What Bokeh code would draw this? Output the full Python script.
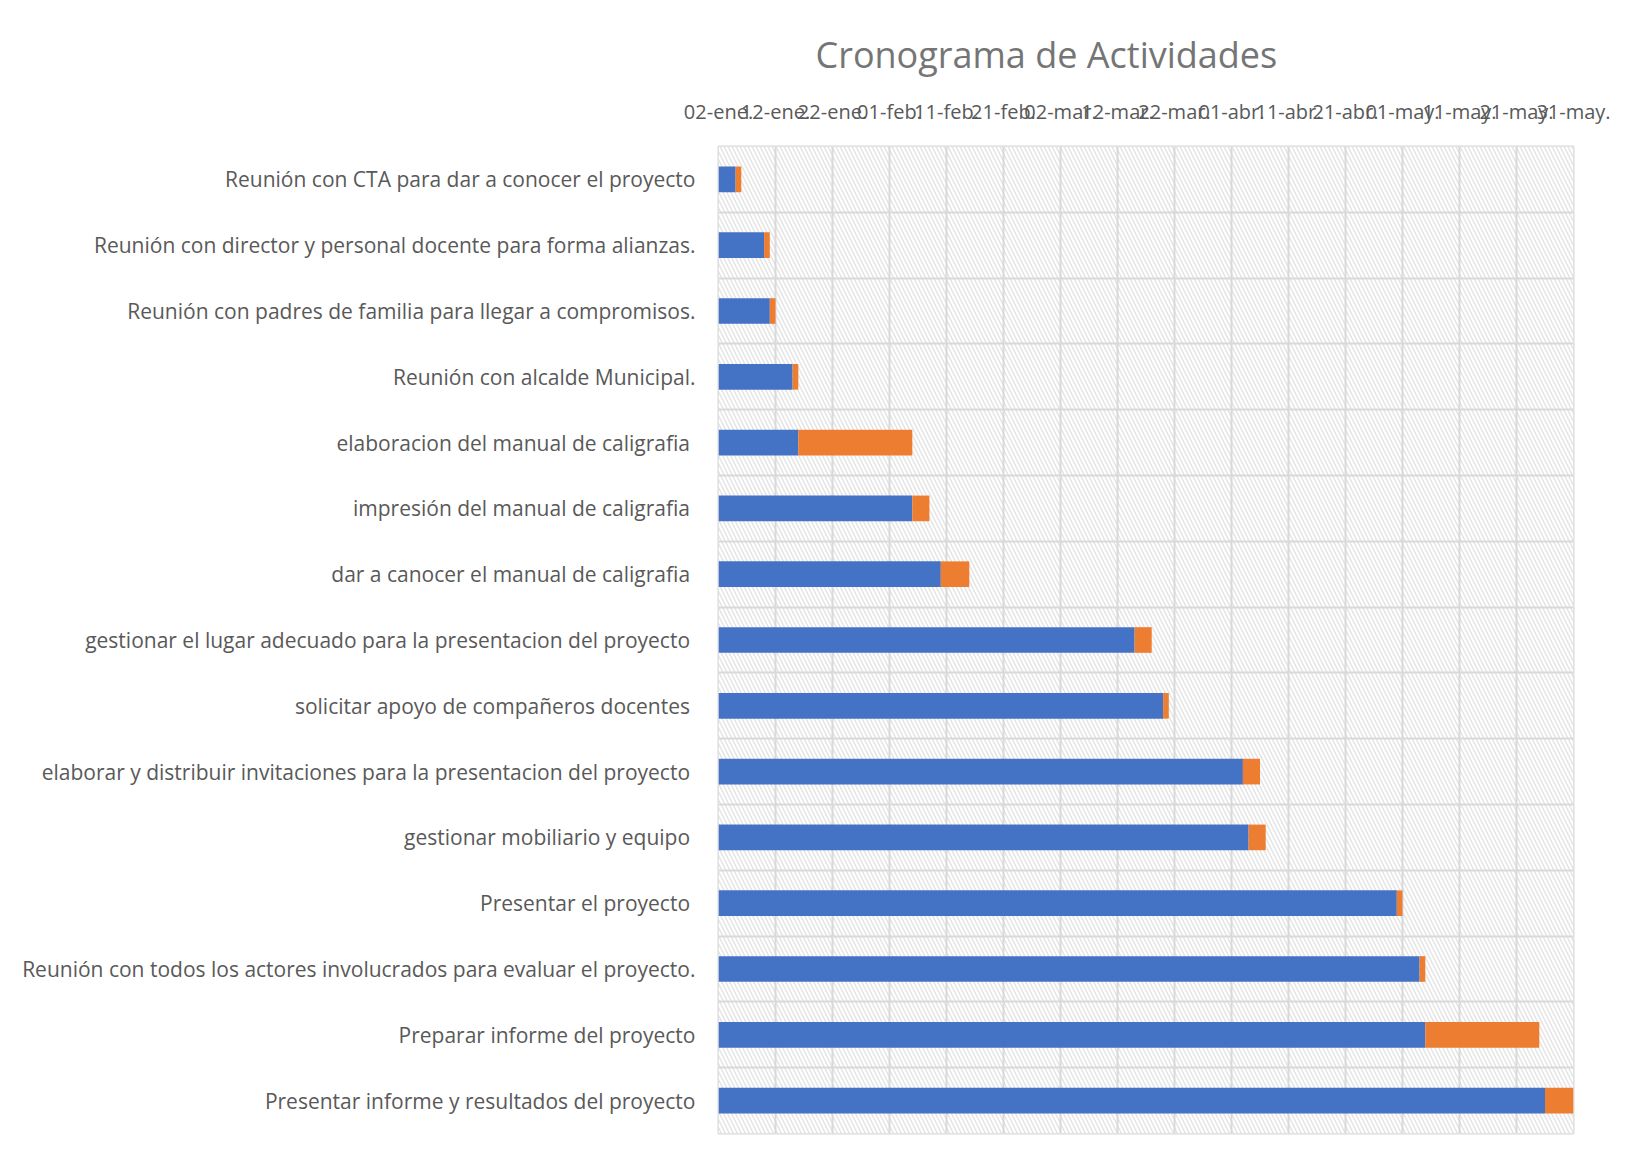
import pandas as pd
from bokeh.plotting import figure
from bokeh.models import FixedTicker, Range1d, BoxAnnotation, ColumnDataSource
from bokeh.embed import file_html
from bokeh.resources import INLINE

# ---- data ----
activities = [
    "Reunión con CTA para dar a conocer el proyecto",
    "Reunión con director y personal docente para forma alianzas.",
    "Reunión con padres de familia para llegar a compromisos.",
    "Reunión con alcalde Municipal.",
    "elaboracion del manual de caligrafia ",
    "impresión del manual de caligrafia ",
    "dar a canocer el manual de caligrafia ",
    "gestionar el lugar adecuado para la presentacion del proyecto ",
    "solicitar apoyo de compañeros docentes ",
    "elaborar y distribuir invitaciones para la presentacion del proyecto ",
    "gestionar mobiliario y equipo ",
    "Presentar el proyecto ",
    "Reunión con todos los actores involucrados para evaluar el proyecto.",
    "Preparar informe del proyecto",
    "Presentar informe y resultados del proyecto",
]
start_dates = [
    "2020-01-05", "2020-01-10", "2020-01-11", "2020-01-15", "2020-01-16",
    "2020-02-05", "2020-02-10", "2020-03-15", "2020-03-20", "2020-04-03",
    "2020-04-04", "2020-04-30", "2020-05-04", "2020-05-05", "2020-05-26",
]
durations = [1, 1, 1, 1, 20, 3, 5, 3, 1, 3, 3, 1, 1, 20, 5]

axis_start = "2020-01-02"
axis_end = "2020-05-31"
tick_labels = ["02-ene.", "12-ene.", "22-ene.", "01-feb.", "11-feb.", "21-feb.",
               "02-mar.", "12-mar.", "22-mar.", "01-abr.", "11-abr.", "21-abr.",
               "01-may.", "11-may.", "21-may.", "31-may."]
title_text = "Cronograma de Actividades"

# ---- derived ----
t0 = pd.Timestamp(axis_start)
t1 = pd.Timestamp(axis_end)
span = (t1 - t0).days
starts = [(pd.Timestamp(d) - t0).days for d in start_dates]
ends = [s + d for s, d in zip(starts, durations)]
n = len(activities)
ycent = [n - i - 0.5 for i in range(n)]
tick_pos = [i * 10 for i in range(len(tick_labels))]

src = ColumnDataSource(dict(y=ycent, zero=[0] * n, s=starts, e=ends))

FONT = "Open Sans"
p = figure(width=1617, height=1141, output_backend="svg", toolbar_location=None,
           x_range=Range1d(0, span), y_range=Range1d(0, n),
           x_axis_location="above",
           min_border_left=718, min_border_right=44, min_border_bottom=8, min_border_top=146)

p.title.text = title_text
p.title.align = "left"
p.title.text_font = FONT
p.title.text_font_size = "36px"
p.title.text_font_style = "normal"
p.title.text_color = "#757575"
p.title.offset = 97
p.title.standoff = 31

# background hatch
bg = BoxAnnotation(fill_color="white", fill_alpha=1.0, line_color=None,
                   hatch_pattern="left_diagonal_line", hatch_color="#d6d6d6",
                   hatch_scale=8, hatch_weight=1.4, hatch_alpha=0.7, level="image")
p.add_layout(bg)

p.hbar(y="y", left="zero", right="s", height=0.39, source=src,
       fill_color="#4472C4", line_color=None)
p.hbar(y="y", left="s", right="e", height=0.39, source=src,
       fill_color="#ED7D31", line_color=None)

# x axis (top)
xa = p.xaxis[0]
xa.ticker = FixedTicker(ticks=tick_pos)
xa.major_label_overrides = {t: lab for t, lab in zip(tick_pos, tick_labels)}
xa.axis_line_color = None
xa.major_tick_line_color = None
xa.minor_tick_line_color = None
xa.major_label_text_font = FONT
xa.major_label_text_font_size = "20px"
xa.major_label_text_color = "#595959"
xa.major_label_standoff = 16

# y axis (left)
ya = p.yaxis[0]
ya.ticker = FixedTicker(ticks=ycent)
ya.major_label_overrides = {y: a for y, a in zip(ycent, activities)}
ya.axis_line_color = None
ya.major_tick_line_color = None
ya.minor_tick_line_color = None
ya.major_label_text_font = FONT
ya.major_label_text_font_size = "21px"
ya.major_label_text_color = "#595959"
ya.major_label_standoff = 17

# grids
p.xgrid[0].ticker = FixedTicker(ticks=tick_pos)
p.xgrid[0].grid_line_color = "#d9d9d9"
p.xgrid[0].grid_line_width = 2
p.ygrid[0].ticker = FixedTicker(ticks=list(range(n + 1)))
p.ygrid[0].grid_line_color = "#d9d9d9"
p.ygrid[0].grid_line_width = 2

p.outline_line_color = "#d9d9d9"
p.outline_line_width = 2
p.background_fill_color = "white"
p.border_fill_color = "white"

open("out.html", "w").write(file_html(p, INLINE))
